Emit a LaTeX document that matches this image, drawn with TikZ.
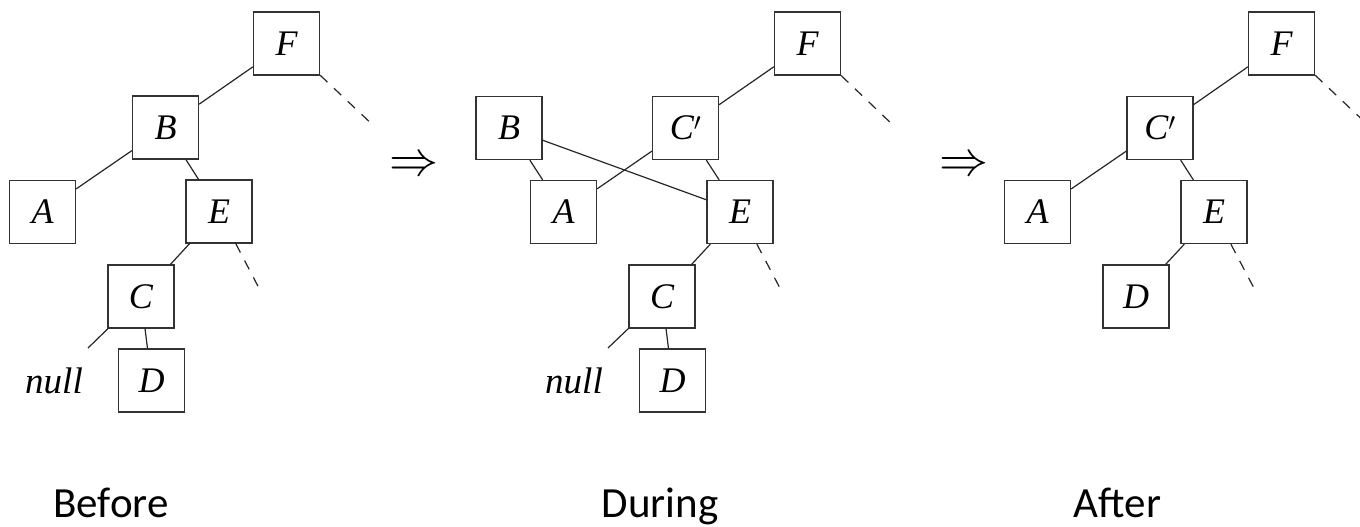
\documentclass[tikz,border=0pt]{standalone}
\usepackage{fontspec}
\usepackage{graphicx}
\setmainfont{Liberation Serif}
\newfontfamily\lblfont{Carlito}
\begin{document}
\begin{tikzpicture}[x=1pt,y=-1pt,
  box/.style={draw=black!80, line width=1.3pt, minimum width=66pt, minimum height=63pt, inner sep=0pt, font=\fontsize{36}{36}\selectfont\itshape},
  edge/.style={line width=1.2pt, draw=black!85},
  dashedge/.style={edge, dash pattern=on 10pt off 9pt},
  caption/.style={font=\fontsize{43}{43}\selectfont\lblfont, anchor=base},
  nulltext/.style={font=\fontsize{37}{37}\selectfont\itshape, anchor=base, inner sep=0pt},
  implies/.style={inner sep=0pt}]
\useasboundingbox (0,0) rectangle (1360,527);
\clip (0,0) rectangle (1360,527);
% ---------- Before ----------
\node[box] (bF) at (286.5,43.5) {F};
\node[box] (bB) at (165.5,127.5) {B};
\node[box] (bA) at (42.5,212) {A};
\node[box] (bE) at (219,211.5) {E};
\node[box] (bC) at (141,296.5) {C};
\node[box] (bD) at (151.5,380.5) {D};
\node[nulltext] (bnull) at (54,393) {null};
\coordinate (bnullend) at (88,348);
\coordinate (bFd) at (375,127);
\coordinate (bEd) at (261,292);
\draw[edge] (bF) -- (bB);
\draw[edge] (bB) -- (bA);
\draw[edge] (bB) -- (bE);
\draw[edge] (bE) -- (bC);
\draw[edge] (bC) -- (bD);
\draw[edge] (bC) -- (bnullend);
\draw[dashedge] (bF) -- (bFd);
\draw[dashedge] (bE) -- (bEd);
\node[implies] (arr1) at (414,166.5) {\scalebox{4.9}{$\Rightarrow$}};
% ---------- During ----------
\node[box] (dF) at (807.5,43.5) {F};
\node[box] (dB) at (509,128) {B};
\node[box] (dCp) at (685.5,128) {C$'$};
\node[box] (dA) at (563.5,212) {A};
\node[box] (dE) at (740,212) {E};
\node[box] (dC) at (662,296.5) {C};
\node[box] (dD) at (672.5,380.5) {D};
\node[nulltext] (dnull) at (574,393) {null};
\coordinate (dnullend) at (608,348);
\coordinate (dFd) at (895,127);
\coordinate (dEd) at (782,292);
\draw[edge] (dF) -- (dCp);
\draw[edge] (dB) -- (dA);
\draw[edge] (dB) -- (dE);
\draw[edge] (dCp) -- (dA);
\draw[edge] (dCp) -- (dE);
\draw[edge] (dE) -- (dC);
\draw[edge] (dC) -- (dD);
\draw[edge] (dC) -- (dnullend);
\draw[dashedge] (dF) -- (dFd);
\draw[dashedge] (dE) -- (dEd);
\node[implies] (arr2) at (963.5,166.5) {\scalebox{4.9}{$\Rightarrow$}};
% ---------- After ----------
\node[box] (aF) at (1281.5,43.5) {F};
\node[box] (aCp) at (1160,128) {C$'$};
\node[box] (aA) at (1037.5,212) {A};
\node[box] (aE) at (1214,212) {E};
\node[box] (aD) at (1136,296.5) {D};
\coordinate (aFd) at (1370,127);
\coordinate (aEd) at (1256,292);
\draw[edge] (aF) -- (aCp);
\draw[edge] (aCp) -- (aA);
\draw[edge] (aCp) -- (aE);
\draw[edge] (aE) -- (aD);
\draw[dashedge] (aF) -- (aFd);
\draw[dashedge] (aE) -- (aEd);
% ---------- captions ----------
\node[caption] (cap1) at (111,517) {Before};
\node[caption] (cap2) at (660,517) {During};
\node[caption] (cap3) at (1117.5,517) {After};
\end{tikzpicture}
\end{document}
